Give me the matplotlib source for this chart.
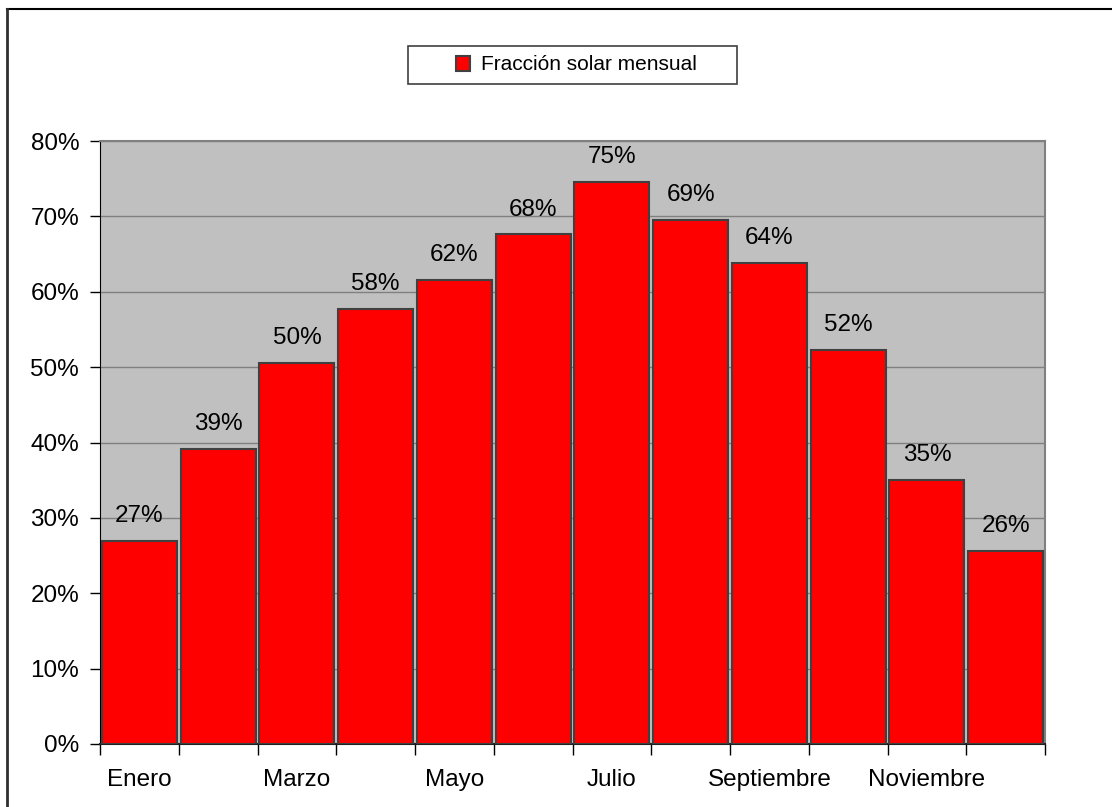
import numpy as np
import matplotlib.pyplot as plt
from matplotlib.lines import Line2D
from matplotlib.patches import Rectangle
from matplotlib.ticker import FixedLocator, PercentFormatter

plt.rcParams['font.family'] = ['Liberation Sans', 'DejaVu Sans']

months = ['Enero', 'Febrero', 'Marzo', 'Abril', 'Mayo', 'Junio', 'Julio',
          'Agosto', 'Septiembre', 'Octubre', 'Noviembre', 'Diciembre']
fraccion = [26.9, 39.2, 50.5, 57.7, 61.6, 67.6, 74.6, 69.5, 63.8, 52.3, 35.0, 25.6]
labels = ['27%', '39%', '50%', '58%', '62%', '68%', '75%', '69%', '64%', '52%', '35%', '26%']
yticks = [0, 10, 20, 30, 40, 50, 60, 70, 80]

W, H = 1112, 807
fs = 17.5
fig = plt.figure(figsize=(W / 100, H / 100), dpi=100)
fig.patch.set_facecolor('white')

ax = fig.add_axes([100 / W, 1 - 744 / H, 945 / W, 603 / H])
ax.set_facecolor('#c0c0c0')

x = np.arange(len(months))
bars = ax.bar(x, fraccion, width=0.95, color='#ff0000', edgecolor='#404040',
              linewidth=1.5, zorder=3, label='Fracción solar mensual')

for xi, v, lab in zip(x, fraccion, labels):
    ax.annotate(lab, (xi, v), xytext=(0, 10), textcoords='offset points',
                ha='center', va='bottom', fontsize=fs, color='black')

ax.set_xlim(-0.5, len(months) - 0.5)
ax.set_ylim(0, 80)
ax.set_yticks(yticks)
ax.yaxis.set_major_formatter(PercentFormatter(decimals=0))
ax.yaxis.grid(True, color='#808080', linewidth=1, zorder=0)
ax.set_axisbelow(True)

# ticks between categories, labels every other month
ax.xaxis.set_major_locator(FixedLocator(np.arange(-0.5, len(months), 1)))
ax.set_xticklabels([])
ax.set_xticks(x[::2], [months[i] for i in x[::2]], minor=True)
ax.tick_params(axis='x', which='major', direction='out', length=8, width=1, color='black')
ax.tick_params(axis='x', which='minor', length=0, pad=18, labelsize=fs)
ax.tick_params(axis='y', direction='out', length=7, width=1, pad=8, labelsize=fs)

ax.spines['left'].set_color('black')
ax.spines['bottom'].set_color('#202020')
ax.spines['bottom'].set_linewidth(1.5)
ax.spines['top'].set_color('#808080')
ax.spines['right'].set_color('#808080')
ax.spines['top'].set_linewidth(1.5)
ax.spines['right'].set_linewidth(1.5)

# legend box drawn separately so it can be as wide as the original
fig.add_artist(Rectangle((408 / W, 1 - 84 / H), 329 / W, 38 / H,
                         transform=fig.transFigure, facecolor='white',
                         edgecolor='#404040', linewidth=1.2))
fig.legend(handles=[bars], loc='center',
           bbox_to_anchor=(576 / W, 1 - 65 / H), fontsize=15,
           frameon=False, handlelength=0.7, handleheight=0.7,
           handletextpad=0.5, borderaxespad=0)

# outer chart border (only top and left visible)
fig.add_artist(Line2D([7 / W, 1], [1 - 9 / H, 1 - 9 / H], color='black', linewidth=1.5))
fig.add_artist(Line2D([7 / W, 7 / W], [0, 1 - 9 / H], color='#303030', linewidth=2))

fig.savefig('out.png', dpi=100)
